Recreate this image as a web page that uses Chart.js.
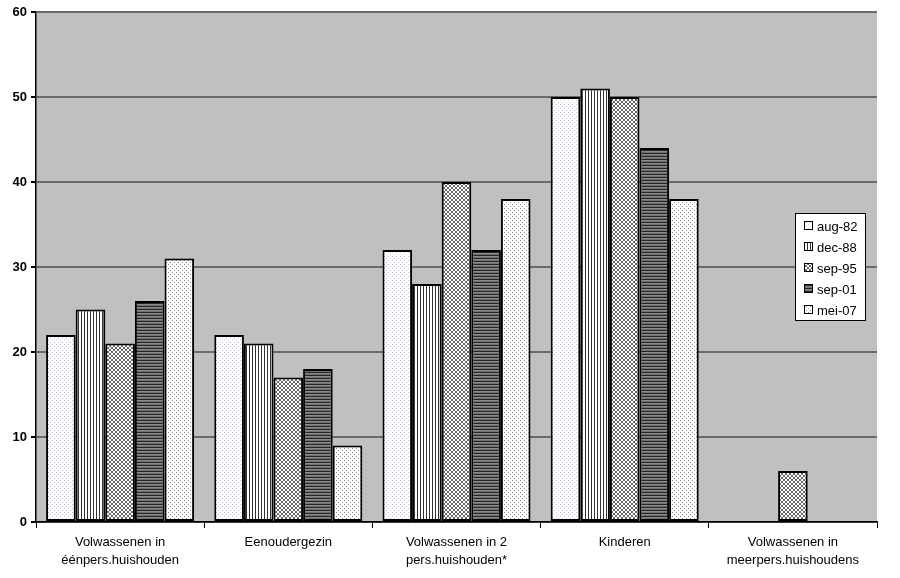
<!DOCTYPE html>
<html>
<head>
<meta charset="utf-8">
<script src="https://cdn.jsdelivr.net/npm/chart.js@4/dist/chart.umd.min.js"></script>
<style>
  body { margin: 0; background: #fff; }
  #chart { display: block; }
</style>
</head>
<body>
<canvas id="chart" width="900" height="578"></canvas>
<script>
// categories (x axis) and series
const categories = [
  ["Volwassenen in", "éénpers.huishouden"],
  ["Eenoudergezin"],
  ["Volwassenen in 2", "pers.huishouden*"],
  ["Kinderen"],
  ["Volwassenen in", "meerpers.huishoudens"]
];
const seriesLabels = ["aug-82", "dec-88", "sep-95", "sep-01", "mei-07"];
const aug82 = [22, 22, 32, 50, 0];
const dec88 = [25, 21, 28, 51, 0];
const sep95 = [21, 17, 40, 50, 6];
const sep01 = [26, 18, 32, 44, 0];
const mei07 = [31, 9, 38, 38, 0];
const yTicks = [0, 10, 20, 30, 40, 50, 60];

// small pixel tiles used as bar fills
function makePattern(size, bg, paint) {
  const c = document.createElement("canvas");
  c.width = size[0];
  c.height = size[1];
  const g = c.getContext("2d");
  g.fillStyle = bg;
  g.fillRect(0, 0, c.width, c.height);
  paint(g);
  return document.getElementById("chart").getContext("2d").createPattern(c, "repeat");
}

const fills = [
  // aug-82: white with faint bluish dots
  makePattern([4, 4], "#ffffff", g => {
    g.fillStyle = "#c4c4e6";
    g.fillRect(0, 0, 1, 1);
    g.fillRect(2, 2, 1, 1);
  }),
  // dec-88: vertical lines
  makePattern([3, 3], "#ffffff", g => {
    g.fillStyle = "#333333";
    g.fillRect(0, 0, 1, 3);
  }),
  // sep-95: small diagonal cross hatch
  makePattern([4, 4], "#ffffff", g => {
    g.fillStyle = "#6a6a6a";
    [[0,0],[1,1],[2,2],[3,3],[3,0],[2,1],[1,2],[0,3]].forEach(p => g.fillRect(p[0], p[1], 1, 1));
  }),
  // sep-01: dark horizontal stripes
  makePattern([3, 3], "#8a8a8a", g => {
    g.fillStyle = "#262626";
    g.fillRect(0, 0, 3, 1);
    g.fillStyle = "#707070";
    g.fillRect(0, 2, 3, 1);
  }),
  // mei-07: sparse gray dots
  makePattern([4, 4], "#ffffff", g => {
    g.fillStyle = "#8c8c8c";
    g.fillRect(0, 0, 1, 1);
    g.fillRect(2, 2, 1, 1);
  })
];

// grey plot area
const plotBackground = {
  id: "plotBackground",
  beforeDraw(chart) {
    const { ctx, chartArea: a } = chart;
    ctx.save();
    ctx.fillStyle = "#c0c0c0";
    ctx.fillRect(a.left, a.top, a.right - a.left, a.bottom - a.top);
    ctx.restore();
  }
};

// boxed legend sitting inside the plot, right side
const boxLegend = {
  id: "boxLegend",
  afterDraw(chart) {
    const { ctx, chartArea: a } = chart;
    const w = 70, h = 107;
    const x = a.right - 12 - w, y = 213;
    ctx.save();
    ctx.fillStyle = "#ffffff";
    ctx.fillRect(x, y, w, h);
    ctx.strokeStyle = "#000";
    ctx.lineWidth = 1;
    ctx.strokeRect(x + 0.5, y + 0.5, w, h);
    ctx.font = "13px 'Liberation Sans', Arial, sans-serif";
    ctx.textBaseline = "middle";
    chart.data.datasets.forEach((ds, i) => {
      const cy = y + 13 + i * 21;
      ctx.fillStyle = ds.backgroundColor;
      ctx.fillRect(x + 9, cy - 5, 9, 9);
      ctx.strokeStyle = "#000";
      ctx.strokeRect(x + 9.5, cy - 4.5, 8, 8);
      ctx.fillStyle = "#000";
      ctx.fillText(ds.label, x + 22, cy + 1);
    });
    ctx.restore();
  }
};

const allSeries = [aug82, dec88, sep95, sep01, mei07];

new Chart(document.getElementById("chart"), {
  type: "bar",
  data: {
    labels: categories,
    datasets: allSeries.map((values, i) => ({
      label: seriesLabels[i],
      data: values,
      backgroundColor: fills[i],
      borderColor: "#000",
      borderWidth: 2,
      borderSkipped: false,
      categoryPercentage: 0.88,
      barPercentage: 1.0
    }))
  },
  options: {
    responsive: false,
    animation: false,
    devicePixelRatio: 1,
    layout: { padding: { top: 12, right: 23, left: 0, bottom: 0 } },
    plugins: {
      legend: { display: false },
      tooltip: { enabled: false }
    },
    scales: {
      x: {
        grid: { drawOnChartArea: false, drawTicks: true, tickLength: 6, tickColor: "#000", offset: true },
        border: { color: "#000", width: 1.5 },
        ticks: {
          color: "#000",
          font: { family: "'Liberation Sans', Arial, sans-serif", size: 13, lineHeight: 1.4 },
          padding: 5,
          maxRotation: 0,
          autoSkip: false
        },
        afterFit(scale) { scale.height = 56; }
      },
      y: {
        min: 0,
        max: 60,
        afterBuildTicks(scale) { scale.ticks = yTicks.map(v => ({ value: v })); },
        grid: { color: "#6a6a6a", lineWidth: 2, drawTicks: true, tickLength: 5, tickColor: "#000" },
        border: { color: "#000", width: 1.5 },
        ticks: {
          color: "#000",
          font: { family: "'Liberation Sans', Arial, sans-serif", size: 13, weight: "bold" },
          padding: 4
        },
        afterFit(scale) { scale.width = 36; }
      }
    }
  },
  plugins: [plotBackground, boxLegend]
});
</script>
</body>
</html>
